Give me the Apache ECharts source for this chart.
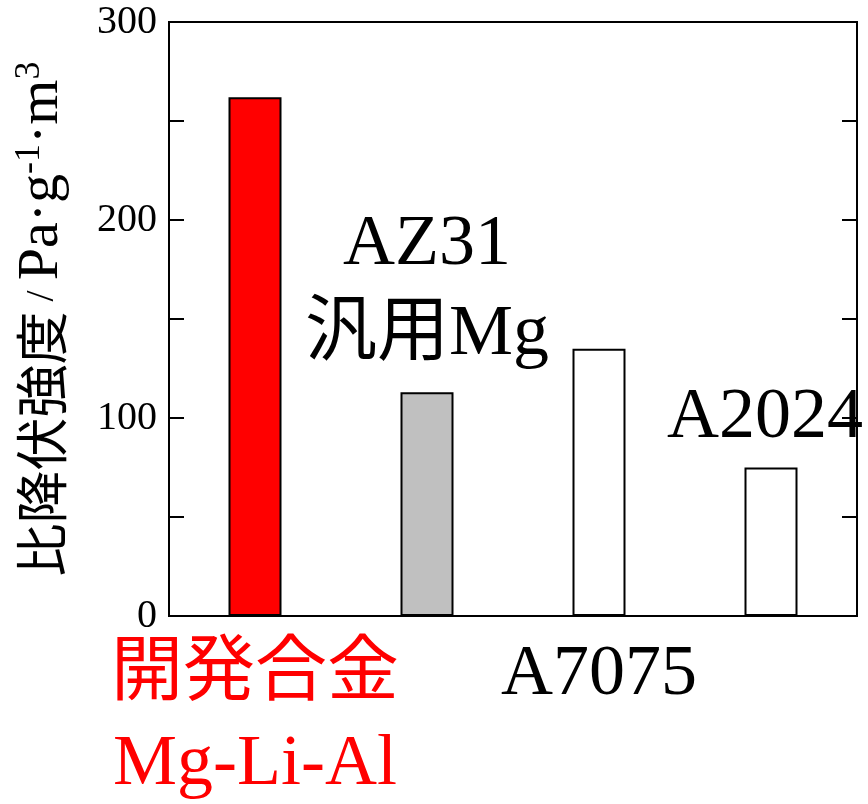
<!DOCTYPE html>
<html>
<head>
<meta charset="utf-8">
<script src="https://cdn.jsdelivr.net/npm/echarts@6/dist/echarts.min.js"></script>
<style>
  html, body { margin: 0; padding: 0; background: #fff; }
  #main { width: 868px; height: 804px; }
</style>
</head>
<body>
<div id="main"></div>
<script>
// materials and specific yield strength
const categories = ['開発合金\nMg-Li-Al', 'AZ31\n汎用Mg', 'A7075', 'A2024'];
const values = [262, 113, 135, 75];
const yTicks = [0, 100, 200, 300];

const barColors = ['#ff0000', '#c0c0c0', '#ffffff', '#ffffff'];
// which names go under the axis, which sit on top of the bar
const belowAxis = [true, false, true, false];
const FONT = '"Liberation Serif", "Noto Sans CJK JP", serif';

const chart = echarts.init(document.getElementById('main'), null, { renderer: 'canvas' });

const data = values.map((v, i) => ({
    value: v,
    itemStyle: { color: barColors[i] },
    label: belowAxis[i] ? { show: false } : {
        show: true,
        position: 'top',
        distance: i === 1 ? 12 : 4,
        offset: i === 3 ? [-6, 0] : [0, 0],
        formatter: categories[i],
        fontSize: 72,
        lineHeight: 90,
        color: '#000',
        fontFamily: FONT
    }
}));

const valueAxisCommon = {
    type: 'value',
    min: 0,
    max: 300,
    interval: 50,
    splitLine: { show: false },
    axisLine: { show: true, lineStyle: { color: '#000', width: 2 } },
    axisTick: { show: true, inside: true, length: 15, lineStyle: { color: '#000', width: 2 } }
};

chart.setOption({
    animation: false,
    grid: {
        left: 169, right: 11, top: 22, bottom: 188,
        outerBoundsMode: 'none',
        containLabel: false,
        show: true, borderColor: '#000', borderWidth: 2, backgroundColor: 'transparent'
    },
    xAxis: {
        type: 'category',
        data: categories,
        axisLine: { show: true, lineStyle: { color: '#000', width: 2 } },
        axisTick: { show: false },
        axisLabel: {
            interval: 0,
            margin: 14,
            fontSize: 72,
            lineHeight: 90,
            fontFamily: FONT,
            formatter: (val, i) => belowAxis[i] ? val : '',
            color: (val, i) => i === 0 ? '#ff0000' : '#000'
        }
    },
    yAxis: [
        Object.assign({}, valueAxisCommon, {
            position: 'left',
            axisLabel: {
                margin: 12,
                fontSize: 40,
                color: '#000',
                fontFamily: FONT,
                formatter: v => yTicks.includes(v) ? String(v) : ''
            },
            name: '{c|比降伏強度}{s| / }{t|Pa·g}{sup|-1}{t|·m}{sup|3}',
            nameLocation: 'middle',
            nameRotate: 90,
            nameGap: 97,
            nameTextStyle: {
                rich: {
                    c: { fontSize: 53, fontFamily: '"Noto Sans CJK JP"', color: '#000', lineHeight: 60 },
                    s: { fontSize: 40, fontFamily: FONT, color: '#000', lineHeight: 60 },
                    t: { fontSize: 58, fontFamily: FONT, color: '#000', lineHeight: 60 },
                    sup: { fontSize: 36, fontFamily: FONT, color: '#000', verticalAlign: 'top', lineHeight: 60 }
                }
            }
        }),
        Object.assign({}, valueAxisCommon, {
            position: 'right',
            axisLabel: { show: false }
        })
    ],
    series: [{
        type: 'bar',
        data: data,
        barWidth: 53,
        itemStyle: { borderColor: '#000', borderWidth: 2 }
    }]
});
</script>
</body>
</html>
